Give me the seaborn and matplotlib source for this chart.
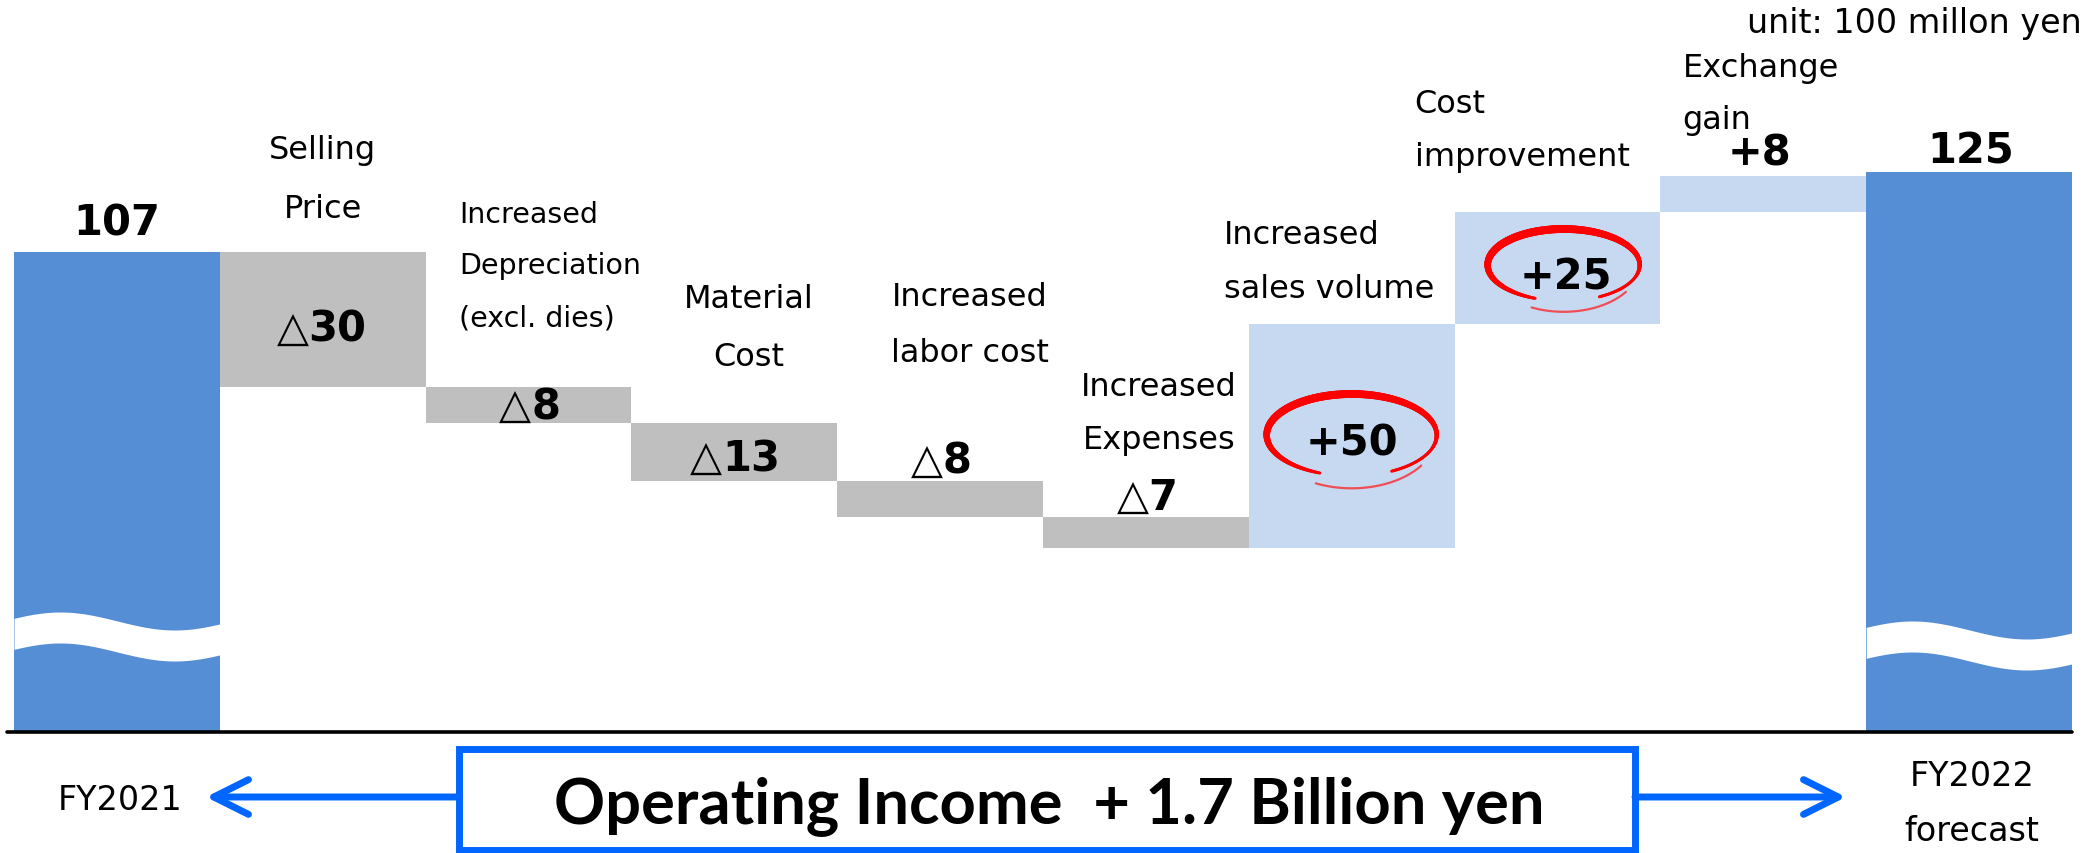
import numpy as np
import pandas as pd
import matplotlib
matplotlib.use("Agg")
import matplotlib.pyplot as plt
import seaborn as sns
from matplotlib import font_manager as fm
from matplotlib.patches import Rectangle, FancyArrowPatch
from matplotlib.lines import Line2D
from matplotlib.collections import LineCollection

# ---------------- data ----------------
categories = ["FY2021", "Selling Price", "Increased Depreciation (excl. dies)",
              "Material Cost", "Increased labor cost", "Increased Expenses",
              "Increased sales volume", "Cost improvement", "Exchange gain",
              "FY2022 forecast"]
changes = [107, -30, -8, -13, -8, -7, 50, 25, 8, 125]
kinds = ["total", "down", "down", "down", "down", "down", "up", "up", "up", "total"]
value_labels = ["107", "30", "8", "13", "8", "7", "+50", "+25", "+8", "125"]
down_mark = "△"
unit_label = "unit: 100 millon yen"
summary_label = "Operating Income  + 1.7 Billion yen"
start_label = "FY2021"
end_label = ["FY2022", "forecast"]

# ---------------- waterfall geometry ----------------
running = 0
bottoms, heights = [], []
for v, k in zip(changes, kinds):
    if k == "total":
        bottoms.append(0); heights.append(v); running = v
    elif v < 0:
        bottoms.append(running + v); heights.append(-v); running += v
    else:
        bottoms.append(running); heights.append(v); running += v
df = pd.DataFrame({"category": categories, "height": heights, "bottom": bottoms})

colors = {"total": "#558ED5", "down": "#BFBFBF", "up": "#C6D9F1"}

W, H = 2098, 854
BASE = 733          # baseline pixel row
PXU = 4.484         # pixels per unit
BW = 205.8          # pixels per category
sns.set_theme(style="white")
plt.rcParams['font.family'] = ['DejaVu Sans']
plt.rcParams['text.color'] = 'black'
fig = plt.figure(figsize=(W / 100, H / 100), dpi=100)

ax = fig.add_axes([14 / W, (H - BASE) / H, (2072 - 14) / W, BASE / H])
sns.barplot(data=df, x="category", y="height", order=categories,
            bottom=df["bottom"].values, width=1.0, color="#558ED5",
            saturation=1, errorbar=None, linewidth=0, ax=ax)
for patch, k in zip(ax.patches, kinds):
    patch.set_facecolor(colors[k])
    patch.set_edgecolor("none")
ax.set_xlim(-0.5, 9.5)
ax.set_ylim(0, BASE / PXU)
ax.axis("off")


def yv(px):
    return (BASE - px) / PXU


# wavy break on total bars
for i, k in enumerate(kinds):
    if k != "total":
        continue
    c = 622 if i == 0 else 631
    xs = np.linspace(i - 0.5, i + 0.5, 200)
    f = xs - (i - 0.5)
    top_px = c - 9 * np.sin(2 * np.pi * 0.9 * f + 0.3)
    ax.fill_between(xs, yv(top_px + 31), yv(top_px), color="white", lw=0, zorder=3)

# baseline
fig.add_artist(Line2D([7 / W, 2072 / W], [(H - BASE) / H] * 2, color="black", lw=2.6))

# ---------------- category labels ----------------
lab_fs = 23
cat_specs = [
    (1, 0.0, "center", [("Selling", 150), ("Price", 209)], lab_fs),
    (2, -0.338, "left", [("Increased", 215), ("Depreciation", 266), ("(excl. dies)", 318)], 20.5),
    (3, 0.07, "center", [("Material", 300), ("Cost", 358)], lab_fs),
    (4, 0.145, "center", [("Increased", 297), ("labor cost", 353)], lab_fs),
    (5, 0.063, "center", [("Increased", 387), ("Expenses", 440)], lab_fs),
    (6, -0.622, "left", [("Increased", 235), ("sales volume", 290)], lab_fs),
    (7, -0.694, "left", [("Cost", 104), ("improvement", 158)], lab_fs),
    (8, -0.393, "left", [("Exchange", 68), ("gain", 120)], lab_fs),
]
for i, dx, ha, lines, fs in cat_specs:
    for txt, py in lines:
        ax.text(i + dx, yv(py), txt, ha=ha, va="center", fontsize=fs, color="black",
                zorder=5)

# ---------------- value labels ----------------
VFS = 30
val_pos = [(0, 0.0, 223), (1, -0.01, 330), (2, 0.0, 407), (3, 0.0, 459), (4, 0.0, 462),
           (5, 0.0, 498), (6, 0.0, 443), (7, 0.04, 277), (8, -0.02, 153), (9, 0.01, 152)]
TRI_W, DIG_W = 34, 29   # approximate glyph advances in pixels
for (i, dx, py), txt, k in zip(val_pos, value_labels, kinds):
    if k == "down":
        tri_right = (TRI_W - DIG_W * len(txt)) / 2 / BW
        tri = ax.text(i + dx + tri_right, yv(py), down_mark, ha="right", va="center",
                      fontsize=VFS, fontweight="normal", color="black", zorder=6)
        ax.annotate(txt, xy=(1, 0), xycoords=tri, ha="left", va="bottom",
                    fontsize=VFS, fontweight="bold", color="black", zorder=6)
    else:
        ax.text(i + dx, yv(py), txt, ha="center", va="center", fontsize=VFS,
                fontweight="bold", color="black", zorder=6)


# hand-drawn style red circles around the key gains
def brush_ellipse(cx, cy, w_px, h_px):
    a = w_px / 2 / BW
    b = h_px / 2 / PXU
    t = np.radians(np.linspace(248, -62, 300))
    xs = cx + a * np.cos(t)
    ys = cy + b * np.sin(t)
    pts = np.column_stack([xs, ys]).reshape(-1, 1, 2)
    segs = np.concatenate([pts[:-1], pts[1:]], axis=1)
    s = np.linspace(0, 1, len(segs))
    widths = (3.0 + 5.0 * np.sin(np.pi * np.clip(s * 1.15, 0, 1))) * 0.72
    lc = LineCollection(segs, linewidths=widths, colors="#FF0000", zorder=5,
                        capstyle="round")
    ax.add_collection(lc)
    t2 = np.radians(np.linspace(-35, -115, 80))
    xs2 = cx + a * 1.0 * np.cos(t2)
    ys2 = cy + b * 1.3 * np.sin(t2)
    ax.plot(xs2, ys2, color="#FF2020", lw=1.6, alpha=0.75, zorder=5,
            solid_capstyle="round")


brush_ellipse(6.0, yv(436), 170, 82)
brush_ellipse(7.03, yv(266), 152, 72)

# unit
fig.text(2082 / W, 1 - 24 / H, unit_label, ha="right", va="center", fontsize=24)

# ---------------- bottom annotation ----------------
def _is_bold(w):
    if isinstance(w, str):
        return w.lower() in ("bold", "heavy", "black", "extra bold", "demibold",
                             "semibold", "ultrabold")
    return w >= 600


bold_fams = {f.name for f in fm.fontManager.ttflist if _is_bold(f.weight)}
sum_family, sum_fs = "DejaVu Sans", 34
for fam, fs in [("Lato", 45.5), ("Roboto", 44), ("Open Sans", 39), ("Noto Sans", 40)]:
    if fam in bold_fams:
        sum_family, sum_fs = fam, fs
        break

blue = "#0066FF"
fig.add_artist(Rectangle((459 / W, 3 / H), (1635 - 459) / W, (849 - 748) / H,
                         transform=fig.transFigure, facecolor="white",
                         edgecolor=blue, lw=5))
fig.text(1049 / W, 1 - 806 / H, summary_label, ha="center", va="center",
         fontsize=sum_fs, fontweight="bold", family=[sum_family, "DejaVu Sans"])
fig.text(120 / W, 1 - 801 / H, start_label, ha="center", va="center", fontsize=24)
fig.text(1972 / W, 1 - 777 / H, end_label[0], ha="center", va="center", fontsize=24)
fig.text(1972 / W, 1 - 832 / H, end_label[1], ha="center", va="center", fontsize=24)

for x0, x1 in [(459, 206), (1635, 1846)]:
    fig.add_artist(FancyArrowPatch((x0 / W, 1 - 798 / H), (x1 / W, 1 - 798 / H),
                                   transform=fig.transFigure,
                                   arrowstyle="->,head_length=0.5,head_width=0.25",
                                   mutation_scale=50, color=blue, lw=5,
                                   capstyle="round", joinstyle="round",
                                   shrinkA=0, shrinkB=0))

fig.savefig("out.png", dpi=100)
